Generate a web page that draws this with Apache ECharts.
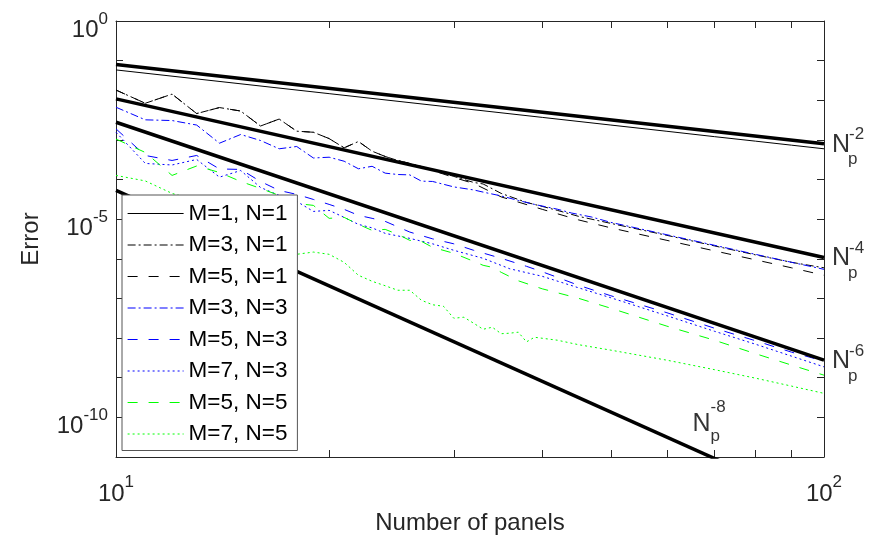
<!DOCTYPE html>
<html><head><meta charset="utf-8">
<script src="https://cdn.jsdelivr.net/npm/echarts@6/dist/echarts.min.js"></script>
<style>html,body{margin:0;padding:0;background:#fff}#c{width:875px;height:550px}</style>
</head><body><div id="c"></div>
<script>
// ---------- data ----------
const xTickVals = [10,20,30,40,50,60,70,80,90,100];
const xLabelVals = [10,100];
const yTickVals = [1e-11,1e-10,1e-9,1e-8,1e-7,1e-6,1e-5,1e-4,1e-3,1e-2,1e-1,1];
const yLabelVals = [1e-10,1e-5,1];

const seriesNames = ['M=1, N=1','M=3, N=1','M=5, N=1','M=3, N=3','M=5, N=3','M=7, N=3','M=5, N=5','M=7, N=5'];

const N_m1n1 = [10,20,30,40,50,60,70,80,90,100];
const E_m1n1 = [0.0583,0.0147,0.00656,0.0037,0.00237,0.00165,0.00121,0.000931,0.000736,0.000597];

const N_m3n1 = [10,11,12,13,14,15,16,17,18,19,20,21,22,23,24,25,26,27,28,30,32,33,35,38,40,42,45,50,60,70,80,90,100];
const E_m3n1 = [1.81e-2,8.40e-3,1.43e-2,4.62e-3,6.55e-3,5.35e-3,2.24e-3,3.36e-3,1.66e-3,1.56e-3,1.08e-3,6.32e-4,9.12e-4,5.19e-4,3.82e-4,3.03e-4,2.55e-4,2.14e-4,1.75e-4,1.20e-4,8.45e-5,7.74e-5,4.47e-5,2.65e-5,2.10e-5,1.67e-5,1.18e-5,7.83e-6,3.91e-6,2.12e-6,1.26e-6,8.16e-7,5.93e-7];

const N_m5n1 = [10,11,12,13,14,15,16,17,18,19,20,21,22,23,24,25,26,28,30,32,35,40,45,50,60,70,80,90,100];
const E_m5n1 = [1.81e-2,8.40e-3,1.43e-2,4.62e-3,6.55e-3,5.35e-3,2.24e-3,3.36e-3,1.66e-3,1.56e-3,1.08e-3,6.32e-4,9.12e-4,5.19e-4,3.82e-4,3.03e-4,2.55e-4,1.69e-4,1.13e-4,7.97e-5,3.65e-5,1.77e-5,9.60e-6,6.04e-6,2.92e-6,1.59e-6,9.44e-7,5.93e-7,3.84e-7];

const N_m3n3 = [10,11,12,13,14,15,16,17,18,19,20,21,22,23,24,25,26,27,28,30,32,33,35,37,39,42,44,47,50,60,70,80,90,100];
const E_m3n3 = [6.67e-3,3.21e-3,3.08e-3,2.37e-3,8.26e-4,1.37e-3,9.66e-4,5.97e-4,6.82e-4,3.50e-4,3.66e-4,2.90e-4,1.87e-4,2.16e-4,1.45e-4,1.34e-4,1.31e-4,9.12e-5,8.95e-5,6.52e-5,5.47e-5,4.82e-5,3.86e-5,2.97e-5,2.36e-5,1.79e-5,1.43e-5,1.13e-5,8.30e-6,4.05e-6,2.20e-6,1.30e-6,8.16e-7,5.43e-7];

const N_m5n3 = [10,11,12,13,14,15,16,17,18,19,20,21,22,23,24,26,28,30,32,35,38,40,42,45,50,60,70,80,90,100];
const E_m5n3 = [1.90e-3,4.05e-4,3.03e-4,4.05e-4,1.85e-4,1.80e-4,8.95e-5,5.31e-5,4.22e-5,3.15e-5,2.36e-5,1.77e-5,1.25e-5,1.05e-5,8.81e-6,4.73e-6,3.19e-6,2.39e-6,1.64e-6,1.03e-6,6.47e-7,4.71e-7,3.42e-7,2.15e-7,1.17e-7,4.36e-8,1.78e-8,8.59e-9,4.41e-9,2.62e-9];

const N_m7n3 = [10,11,12,13,14,15,16,17,18,19,20,21,22,23,24,26,28,30,33,36,40,45,50,60,70,80,90,100];
const E_m7n3 = [1.56e-3,2.55e-4,2.33e-4,3.21e-4,1.15e-4,1.69e-4,6.32e-5,3.97e-5,2.81e-5,1.57e-5,1.67e-5,1.11e-5,7.39e-6,6.04e-6,4.39e-6,3.28e-6,2.39e-6,1.64e-6,1.03e-6,5.60e-7,3.62e-7,1.86e-7,1.04e-7,3.66e-8,1.49e-8,7.02e-9,3.50e-9,1.88e-9];

const N_m5n5 = [10,11,12,13,14,15,16,17,18,19,20,21,22,23,24,25,26,27,28,30,32,33,34,35,37,40,45,50,60,70,80,90,100];
const E_m5n5 = [1.05e-3,4.82e-4,1.27e-4,2.20e-4,1.51e-4,8.95e-5,5.97e-5,3.97e-5,2.50e-5,2.23e-5,1.05e-5,1.11e-5,7.39e-6,5.22e-6,5.53e-6,4.14e-6,2.92e-6,2.76e-6,1.95e-6,1.38e-6,8.65e-7,6.86e-7,6.11e-7,4.57e-7,2.79e-7,1.75e-7,1.01e-7,5.66e-8,2.00e-8,8.85e-9,4.05e-9,2.08e-9,1.16e-9];

const N_m7n5 = [10,11,12,13,14,15,16,17,18,19,20,21,22,23,24,25,26,27,28,29,30,31,32,33,34,35,36,37,38,39,42,45,50,60,70,80,90,100];
const E_m7n5 = [1.27e-4,9.23e-5,4.47e-5,2.98e-5,1.48e-5,6.59e-6,3.28e-6,1.84e-6,1.30e-6,1.48e-6,1.30e-6,8.16e-7,3.84e-7,2.71e-7,2.09e-7,1.61e-7,1.61e-7,9.02e-8,6.93e-8,6.37e-8,3.17e-8,3.36e-8,2.37e-8,1.67e-8,1.88e-8,1.29e-8,1.33e-8,1.41e-8,8.02e-9,1.05e-8,8.85e-9,6.82e-9,4.96e-9,2.77e-9,1.60e-9,9.77e-10,6.14e-10,4.03e-10];

// reference slopes N_p^-2, -4, -6, -8 (values at N=10 and N=100)
const refN = [10, 100];
const ref2 = [8.04e-2, 8.04e-4];
const ref4 = [1.084e-2, 1.084e-6];
const ref6 = [2.79e-3, 2.79e-9];
const ref8 = [5.31e-5, 5.31e-13];

// reference-line annotations
const refLabelN = [100, 100, 100, 65];
const refLabelE = [8.04e-4, 1.084e-6, 2.79e-9, 7e-11];
const refLabelExp = ['-2', '-4', '-6', '-8'];

// ---------- styles ----------
const FONT = '"Liberation Sans", Arial, Helvetica, sans-serif';
const AX = '#262626';
const DASHDOT = [8,3,2,3], DASH = [10,11], DOT = [2,3];
const seriesN = [N_m1n1,N_m3n1,N_m5n1,N_m3n3,N_m5n3,N_m7n3,N_m5n5,N_m7n5];
const seriesE = [E_m1n1,E_m3n1,E_m5n1,E_m3n3,E_m5n3,E_m7n3,E_m5n5,E_m7n5];
const seriesColor = ['#000000','#000000','#000000','#0000ff','#0000ff','#0000ff','#00ff00','#00ff00'];
const seriesDash = ['solid',DASHDOT,DASH,DASHDOT,DASH,DOT,DASH,DOT];

function zip(a, b) { return a.map((v, i) => [v, b[i]]); }

const series = [];
seriesNames.forEach((nm, i) => {
  series.push({
    type: 'line', name: nm, data: zip(seriesN[i], seriesE[i]),
    symbol: 'none', showSymbol: false, clip: true, z: 2,
    lineStyle: { color: seriesColor[i], width: 1, type: seriesDash[i] },
    itemStyle: { color: seriesColor[i] },
    emphasis: { disabled: true }
  });
});
[ref2, ref4, ref6, ref8].forEach((r, i) => {
  series.push({
    type: 'line', name: 'ref' + i, data: zip(refN, r),
    symbol: 'none', showSymbol: false, clip: true, z: 3,
    lineStyle: { color: '#000', width: 3.5, type: 'solid' },
    itemStyle: { color: '#000' },
    emphasis: { disabled: true }
  });
});

// label pieces: N, superscript exponent, subscript p
const offStd = { N: [8, 1], sup: [25, -9], sub: [24, 16] };
const off8 = { N: [1, 0.5], sup: [19, -16], sub: [19, 13] };
const labelData = [];
refLabelN.forEach((n, i) => {
  const o = i === 3 ? off8 : offStd;
  const base = { show: true, position: 'inside', align: 'left', verticalAlign: 'middle', color: '#000', fontFamily: FONT };
  labelData.push({ value: [n, refLabelE[i]], label: Object.assign({}, base, { formatter: 'N', fontSize: 25, offset: o.N }) });
  labelData.push({ value: [n, refLabelE[i]], label: Object.assign({}, base, { formatter: refLabelExp[i], fontSize: 17, offset: o.sup }) });
  labelData.push({ value: [n, refLabelE[i]], label: Object.assign({}, base, { formatter: 'p', fontSize: 17, offset: o.sub }) });
});
series.push({
  type: 'scatter', name: 'labels', data: labelData, symbolSize: 1, z: 5,
  itemStyle: { color: 'rgba(0,0,0,0)' }, clip: false, emphasis: { disabled: true }, silent: true
});

const supRich = {
  b: { fontSize: 24, lineHeight: 32, verticalAlign: 'bottom', color: AX, fontFamily: FONT },
  s: { fontSize: 17, lineHeight: 14, verticalAlign: 'top', color: AX, fontFamily: FONT }
};
function powFmt(v) { return '{b|10}{s|' + Math.round(Math.log10(v)) + '}'; }

function xAx(pos, main) {
  return {
    type: 'log', logBase: 10, min: 10, max: 100, position: pos,
    axisLine: { show: true, onZero: false, lineStyle: { color: AX, width: 1 } },
    axisTick: { show: true, inside: true, length: 7, lineStyle: { color: AX, width: 1 }, customValues: xTickVals },
    minorTick: { show: false }, splitLine: { show: false },
    axisLabel: main ? { show: true, customValues: xLabelVals, formatter: powFmt, rich: supRich, margin: 17 } : { show: false },
    name: main ? 'Number of panels' : '', nameLocation: 'middle', nameGap: 54,
    nameTextStyle: { fontSize: 24, color: AX, fontFamily: FONT }
  };
}
function yAx(pos, main) {
  return {
    type: 'log', logBase: 10, min: 1e-11, max: 1, position: pos,
    axisLine: { show: true, onZero: false, lineStyle: { color: AX, width: 1 } },
    axisTick: { show: true, inside: true, length: 7, lineStyle: { color: AX, width: 1 }, customValues: yTickVals },
    minorTick: { show: false }, splitLine: { show: false },
    axisLabel: main ? { show: true, customValues: yLabelVals, formatter: powFmt, rich: supRich, margin: 8, padding: [11, 0, 0, 0] } : { show: false },
    name: main ? 'Error' : '', nameLocation: 'middle', nameGap: 73,
    nameTextStyle: { fontSize: 24, color: AX, fontFamily: FONT }
  };
}

const legendData = seriesNames.map((nm, i) => ({
  name: nm,
  itemStyle: { opacity: 0, borderWidth: 0 },
  lineStyle: { color: seriesColor[i], width: 1.2, type: seriesDash[i], opacity: 1 }
}));

const option = {
  animation: false,
  backgroundColor: '#ffffff',
  grid: { left: 116, right: 51, top: 21, bottom: 93, containLabel: false },
  xAxis: [xAx('bottom', true), xAx('top', false)],
  yAxis: [yAx('left', true), yAx('right', false)],
  legend: {
    data: legendData, orient: 'vertical', left: 122, top: 195,
    padding: [7, 10, 5, 5], itemGap: 8.5, itemWidth: 56, itemHeight: 14,
    backgroundColor: '#ffffff', borderColor: '#555', borderWidth: 1, borderRadius: 0,
    itemStyle: { opacity: 0, borderWidth: 0 },
    textStyle: { fontSize: 22.5, lineHeight: 23, color: '#000', fontFamily: FONT },
    selectedMode: false, z: 10
  },
  series: series
};
const chart = echarts.init(document.getElementById('c'));
chart.setOption(option);
</script>
</body></html>
